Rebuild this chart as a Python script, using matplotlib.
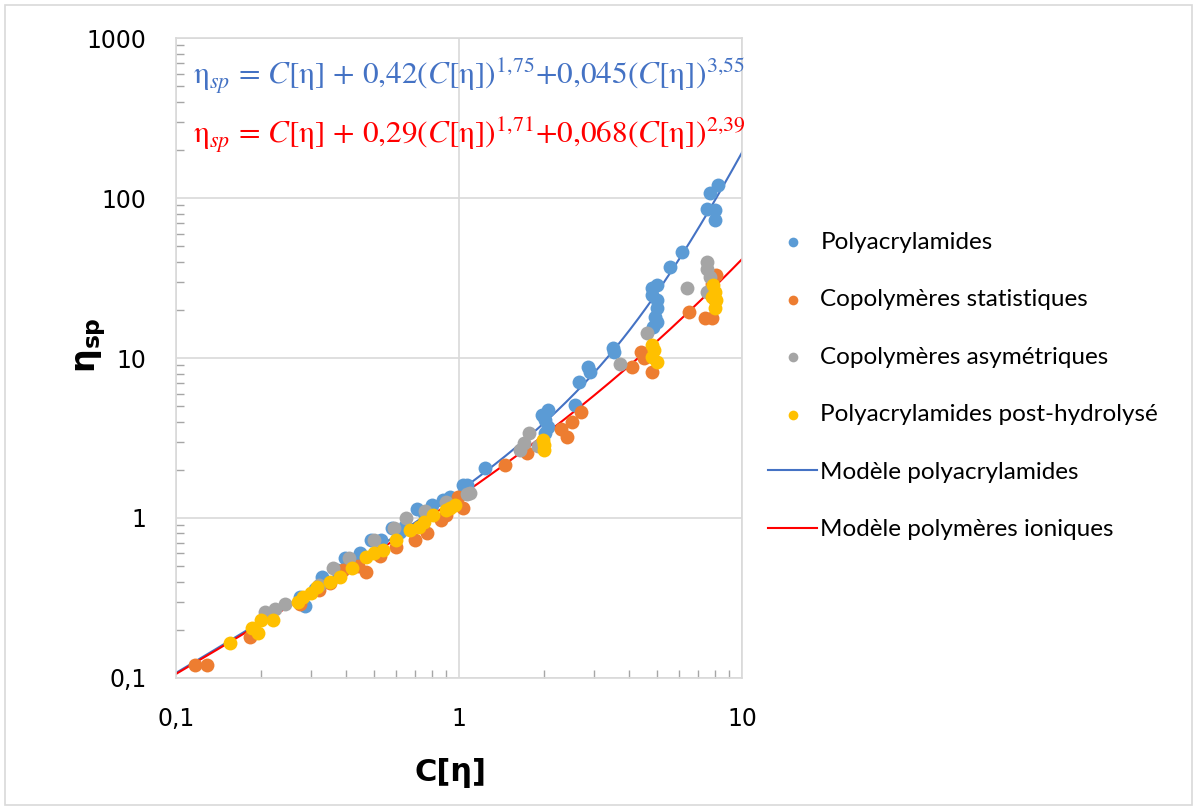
import numpy as np
import matplotlib.pyplot as plt
from matplotlib.ticker import FixedLocator, FixedFormatter, NullFormatter
from matplotlib.patches import Rectangle

plt.rcParams['mathtext.fontset'] = 'custom'
plt.rcParams['mathtext.rm'] = 'STIXGeneral'
plt.rcParams['mathtext.it'] = 'STIXGeneral:italic'
plt.rcParams['mathtext.bf'] = 'DejaVu Sans:bold'

# Polyacrylamides
pam_x = [0.274, 0.286, 0.31, 0.328, 0.37, 0.396, 0.42, 0.447, 0.49, 0.53, 0.58, 0.62, 0.645,
         0.71, 0.75, 0.80, 0.88, 0.93, 1.03, 1.07, 1.24, 1.96, 2.01, 2.06, 2.01, 2.06, 2.57,
         2.66, 2.86, 2.90, 3.50, 3.52, 4.81, 5.0, 4.81, 5.0, 5.0, 4.93, 5.0, 4.85, 5.57, 6.14,
         7.5, 7.7, 8.0, 8.0, 8.2]
pam_y = [0.32, 0.282, 0.36, 0.43, 0.473, 0.56, 0.55, 0.60, 0.73, 0.73, 0.87, 0.82, 0.89,
         1.14, 1.08, 1.21, 1.30, 1.35, 1.60, 1.60, 2.05, 4.4, 4.1, 4.7, 3.4, 3.7, 5.1,
         7.1, 8.8, 8.2, 11.5, 10.9, 27.4, 28.6, 24.8, 23.0, 20.5, 18.0, 16.8, 15.6, 37.0, 46.0,
         85.0, 107.0, 84.0, 73.0, 120.0]

# Copolymères statistiques
stat_x = [0.117, 0.129, 0.183, 0.274, 0.32, 0.35, 0.39, 0.44, 0.47, 0.526, 0.60, 0.70, 0.77,
          0.86, 0.90, 0.99, 1.03, 1.45, 1.74, 2.3, 2.4, 2.5, 2.7, 4.07, 4.4, 4.5, 4.8, 6.5,
          7.4, 7.8, 8.1, 8.0, 7.8]
stat_y = [0.12, 0.12, 0.18, 0.29, 0.355, 0.39, 0.47, 0.50, 0.46, 0.58, 0.66, 0.73, 0.81,
          0.97, 1.05, 1.36, 1.15, 2.15, 2.55, 3.6, 3.2, 4.0, 4.6, 8.8, 10.9, 10.0, 8.2, 19.3,
          17.8, 17.8, 33.0, 23.0, 29.0]

# Copolymères asymétriques
asym_x = [0.206, 0.224, 0.243, 0.32, 0.36, 0.41, 0.50, 0.59, 0.65, 0.76, 0.90, 1.07, 1.09,
          1.64, 1.70, 1.77, 1.90, 3.7, 4.6, 6.4, 7.5, 7.5, 7.7, 7.5]
asym_y = [0.26, 0.27, 0.29, 0.38, 0.49, 0.56, 0.73, 0.87, 1.0, 1.1, 1.25, 1.42, 1.44,
          2.66, 2.96, 3.4, 2.8, 9.2, 14.3, 27.4, 40.0, 36.0, 32.0, 26.0]

# Polyacrylamides post-hydrolysé
hyd_x = [0.155, 0.186, 0.195, 0.20, 0.22, 0.27, 0.28, 0.30, 0.315, 0.35, 0.38, 0.42, 0.47,
         0.50, 0.54, 0.60, 0.67, 0.72, 0.75, 0.81, 0.90, 0.97, 0.93, 1.98, 2.0, 2.0, 4.8,
         4.9, 4.8, 5.0, 7.9, 8.0, 8.1, 8.0, 7.8]
hyd_y = [0.165, 0.205, 0.19, 0.23, 0.23, 0.30, 0.32, 0.34, 0.37, 0.40, 0.43, 0.49, 0.57,
         0.60, 0.63, 0.73, 0.84, 0.88, 0.94, 1.05, 1.12, 1.20, 1.15, 3.07, 2.85, 2.66, 12.0,
         11.2, 10.2, 9.5, 28.6, 26.0, 23.0, 20.5, 24.0]

# model coefficients
pam_coef = (0.42, 1.75, 0.045, 3.55)
ion_coef = (0.29, 1.71, 0.068, 2.39)


def model(c, a, p, b, q):
    return c + a * c ** p + b * c ** q


fig = plt.figure(figsize=(11.97, 8.10), dpi=100)
ax = fig.add_axes([0.147, 0.163, 0.473, 0.790])

c = np.logspace(-1, 1, 300)
ax.plot(c, model(c, *pam_coef), color='#4472C4', lw=1.5, zorder=2, label='Modèle polyacrylamides')
ax.plot(c, model(c, *ion_coef), color='#FF0000', lw=1.5, zorder=2, label='Modèle polymères ioniques')

ms = 100
ax.scatter(pam_x, pam_y, s=ms, color='#5B9BD5', lw=0, zorder=3, label='Polyacrylamides')
ax.scatter(stat_x, stat_y, s=ms, color='#ED7D31', lw=0, zorder=3, label='Copolymères statistiques')
ax.scatter(asym_x, asym_y, s=ms, color='#A5A5A5', lw=0, zorder=3, label='Copolymères asymétriques')
ax.scatter(hyd_x, hyd_y, s=ms, color='#FFC000', lw=0, zorder=4, label='Polyacrylamides post-hydrolysé')

ax.set_xscale('log')
ax.set_yscale('log')
ax.set_xlim(0.1, 10)
ax.set_ylim(0.1, 1000)

x_minor = [k * 10.0 ** e for e in range(-1, 1) for k in range(2, 10)]
y_minor = [k * 10.0 ** e for e in range(-1, 3) for k in range(2, 10)]
ax.xaxis.set_major_locator(FixedLocator([0.1, 1, 10]))
ax.xaxis.set_major_formatter(FixedFormatter(['0,1', '1', '10']))
ax.yaxis.set_major_locator(FixedLocator([0.1, 1, 10, 100, 1000]))
ax.yaxis.set_major_formatter(FixedFormatter(['0,1', '1', '10', '100', '1000']))
ax.xaxis.set_minor_locator(FixedLocator(x_minor))
ax.yaxis.set_minor_locator(FixedLocator(y_minor))
ax.xaxis.set_minor_formatter(NullFormatter())
ax.yaxis.set_minor_formatter(NullFormatter())

ax.grid(True, which='major', color='#D9D9D9', lw=1.2, zorder=0)
ax.set_axisbelow(True)
for sp in ax.spines.values():
    sp.set_color('#D9D9D9')
    sp.set_linewidth(1.2)
ax.tick_params(which='both', direction='in', color='#A6A6A6', width=1, labelsize=17,
               labelcolor='#000000')
ax.tick_params(which='major', length=0, pad=21)
ax.tick_params(which='minor', length=6)

ax.set_xlabel('C[η]', fontsize=22, fontweight='bold')
ax.xaxis.set_label_coords(0.485, -0.125)
ax.set_ylabel(r'$\mathbf{\eta_{sp}}$', fontsize=24)
ax.yaxis.set_label_coords(-0.12, 0.52)

ax.text(0.03, 0.939,
        r'$\mathrm{\eta}_{sp}$ = $C$[η] + 0,42($C$[η])$^{1{,}75}$+0,045($C$[η])$^{3{,}55}$',
        transform=ax.transAxes, color='#4472C4', fontsize=22.5, family='STIXGeneral',
        va='center')
ax.text(0.03, 0.847,
        r'$\mathrm{\eta}_{sp}$ = $C$[η] + 0,29($C$[η])$^{1{,}71}$+0,068($C$[η])$^{2{,}39}$',
        transform=ax.transAxes, color='#FF0000', fontsize=22.5, family='STIXGeneral',
        va='center')

handles, labels = ax.get_legend_handles_labels()
order = [2, 3, 4, 5, 0, 1]
fig.legend([handles[i] for i in order], [labels[i] for i in order],
           loc='upper left', bbox_to_anchor=(0.6235, 0.741), frameon=False,
           labelspacing=1.5, handlelength=2.0, handletextpad=0.15,
           markerscale=0.7, prop={'family': 'Lato', 'size': 17.5})

fig.patches.append(Rectangle((0.004, 0.006), 0.992, 0.988, transform=fig.transFigure,
                             fill=False, edgecolor='#D9D9D9', lw=1.2))

fig.savefig('out.png', dpi=100)
